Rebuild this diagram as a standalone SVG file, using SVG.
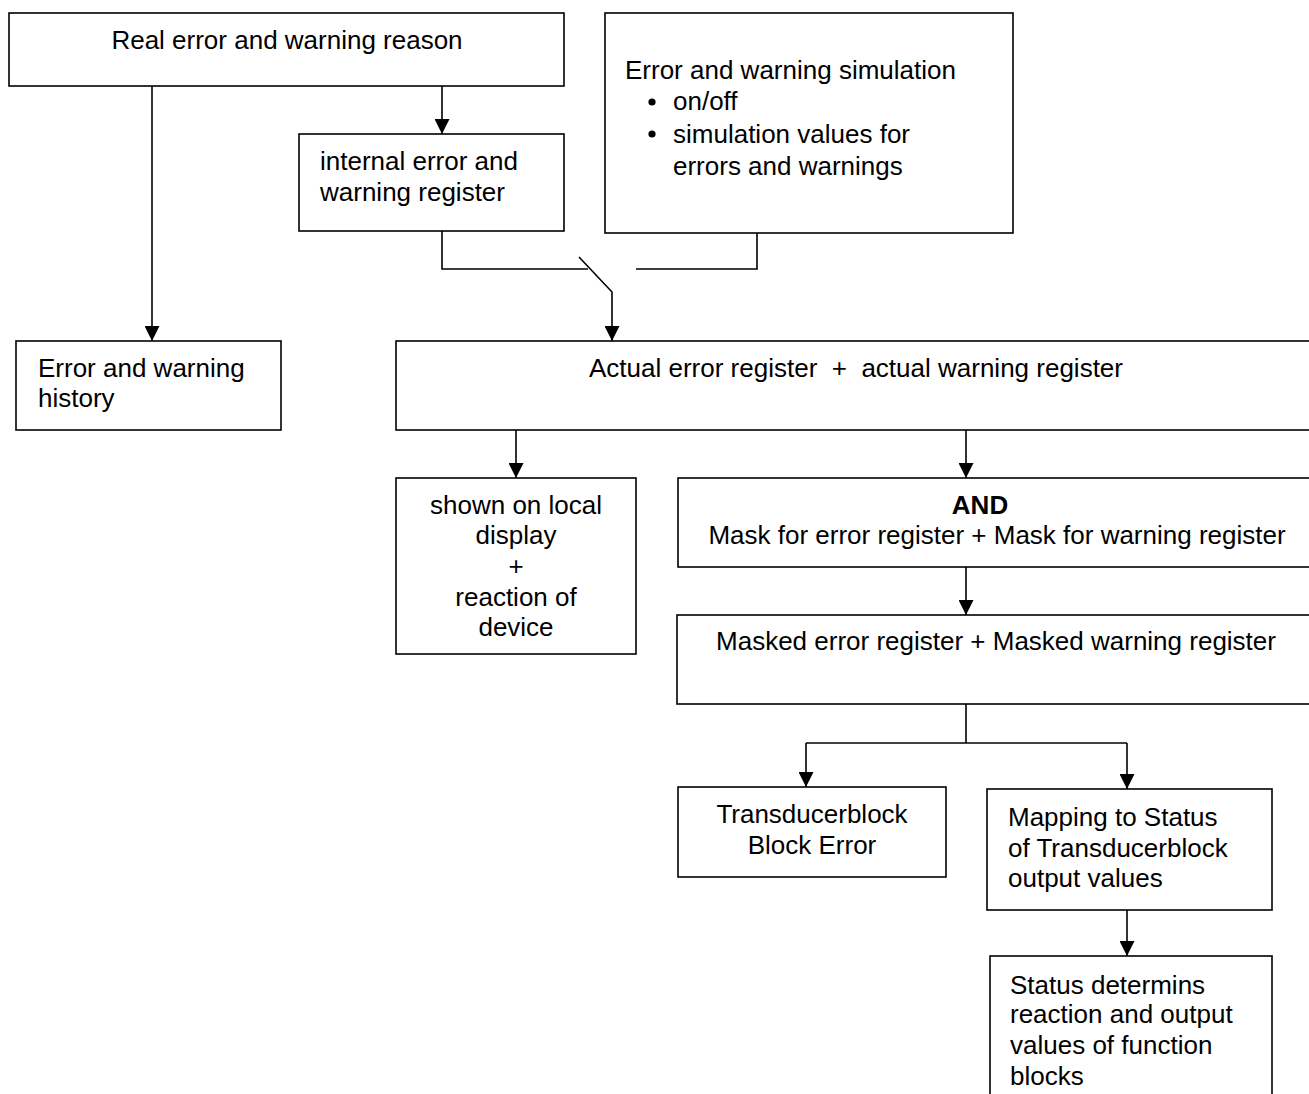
<svg xmlns="http://www.w3.org/2000/svg" width="1309" height="1094" viewBox="0 0 1309 1094">
<style>
.box{fill:#fff;stroke:#000;stroke-width:1.6}
.t{font-family:"Liberation Sans",Arial,sans-serif;font-size:26px;fill:#000}
.c{text-anchor:middle}
.b{font-weight:bold}
.ln{fill:none;stroke:#000;stroke-width:1.6}
</style>
<defs>
<marker id="ah" markerUnits="userSpaceOnUse" viewBox="0 0 15 15" refX="15" refY="7.5" markerWidth="15" markerHeight="15" orient="auto">
<path d="M0,0 L15,7.5 L0,15 z" fill="#000"/>
</marker>
</defs>
<rect width="1309" height="1094" fill="#fff"/>
<g id="connectors">
<path class="ln" d="M152,86 V341" marker-end="url(#ah)"/>
<path class="ln" d="M442,86 V134" marker-end="url(#ah)"/>
<path class="ln" d="M442,231 V269 H588"/>
<path class="ln" d="M579,257 L612,292 V341" marker-end="url(#ah)"/>
<path class="ln" d="M757,233 V269 H636"/>
<path class="ln" d="M516,430 V478" marker-end="url(#ah)"/>
<path class="ln" d="M966,430 V478" marker-end="url(#ah)"/>
<path class="ln" d="M966,567 V615" marker-end="url(#ah)"/>
<path class="ln" d="M966,704 V743"/>
<path class="ln" d="M806,743 H1127"/>
<path class="ln" d="M806,743 V787" marker-end="url(#ah)"/>
<path class="ln" d="M1127,743 V789" marker-end="url(#ah)"/>
<path class="ln" d="M1127,910 V956" marker-end="url(#ah)"/>
</g>
<g id="real-reason">
<rect class="box" x="9" y="13" width="555" height="73"/>
<text class="t c" x="287" y="49">Real error and warning reason</text>
</g>
<g id="internal-register">
<rect class="box" x="299" y="134" width="265" height="97"/>
<text class="t" x="320" y="170">internal error and</text>
<text class="t" x="320" y="201">warning register</text>
</g>
<g id="simulation">
<rect class="box" x="605" y="13" width="408" height="220"/>
<text class="t" x="625" y="79">Error and warning simulation</text>
<circle cx="652" cy="102" r="3.6"/>
<text class="t" x="673" y="110">on/off</text>
<circle cx="652" cy="134" r="3.6"/>
<text class="t" x="673" y="143">simulation values for</text>
<text class="t" x="673" y="175">errors and warnings</text>
</g>
<g id="history">
<rect class="box" x="16" y="341" width="265" height="89"/>
<text class="t" x="38" y="377">Error and warning</text>
<text class="t" x="38" y="407">history</text>
</g>
<g id="actual-register">
<rect class="box" x="396" y="341" width="930" height="89"/>
<text class="t c" x="856" y="377" xml:space="preserve">Actual error register  +  actual warning register</text>
</g>
<g id="local-display">
<rect class="box" x="396" y="478" width="240" height="176"/>
<text class="t c" x="516" y="514">shown on local</text>
<text class="t c" x="516" y="544">display</text>
<text class="t c" x="516" y="575">+</text>
<text class="t c" x="516" y="606">reaction of</text>
<text class="t c" x="516" y="636">device</text>
</g>
<g id="mask">
<rect class="box" x="678" y="478" width="650" height="89"/>
<text class="t c b" x="980" y="514">AND</text>
<text class="t c" x="997" y="544">Mask for error register + Mask for warning register</text>
</g>
<g id="masked-register">
<rect class="box" x="677" y="615" width="650" height="89"/>
<text class="t c" x="996" y="650">Masked error register + Masked warning register</text>
</g>
<g id="block-error">
<rect class="box" x="678" y="787" width="268" height="90"/>
<text class="t c" x="812" y="823">Transducerblock</text>
<text class="t c" x="812" y="854">Block Error</text>
</g>
<g id="mapping">
<rect class="box" x="987" y="789" width="285" height="121"/>
<text class="t" x="1008" y="826">Mapping to Status</text>
<text class="t" x="1008" y="857">of Transducerblock</text>
<text class="t" x="1008" y="887">output values</text>
</g>
<g id="status">
<rect class="box" x="990" y="956" width="282" height="160"/>
<text class="t" x="1010" y="994">Status determins</text>
<text class="t" x="1010" y="1023">reaction and output</text>
<text class="t" x="1010" y="1054">values of function</text>
<text class="t" x="1010" y="1085">blocks</text>
</g>
</svg>
